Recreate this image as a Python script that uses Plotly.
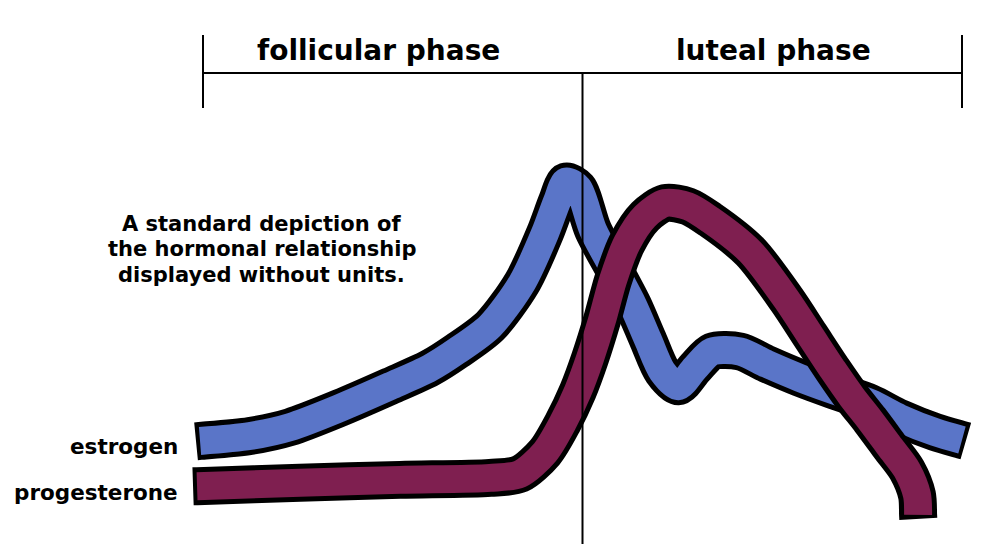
import math
import plotly.graph_objects as go

# Cycle day (x) and relative hormone level (y, no units)
estrogen_day = [-0.11, 1.73, 3.21, 5.05, 6.90, 8.37, 9.37, 10.59, 11.77, 12.62, 13.06, 13.39, 13.84,
                14.39, 15.24, 15.86, 16.42, 16.94, 17.53, 18.15, 18.78, 19.81, 20.81, 22.02, 23.24,
                24.61, 25.71, 27.00, 28.00]
estrogen_level = [17.9, 19.4, 22.1, 27.9, 34.5, 40.0, 45.2, 52.7, 65.8, 80.9, 90.5, 96.5, 94.5,
                  81.8, 68.8, 59.1, 48.5, 39.0, 34.5, 40.0, 45.0, 45.0, 41.2, 37.0, 33.3,
                  29.4, 24.8, 20.6, 18.2]

progesterone_day = [-0.22, 3.58, 7.27, 10.59, 11.69, 12.62, 13.28, 13.83, 14.28, 14.72, 15.13, 15.64,
                    16.31, 17.05, 17.89, 18.70, 20.18, 21.54, 22.39, 23.24, 23.94, 24.61, 25.34,
                    25.97, 26.34, 26.38]
progesterone_level = [4.2, 5.2, 6.1, 6.7, 7.9, 14.5, 23.5, 33.0, 43.0, 54.5, 66.7, 77.8,
                      86.0, 90.0, 89.0, 85.0, 75.3, 60.6, 50.0, 39.4, 31.2, 24.2, 16.1,
                      9.1, 1.5, -4.5]

phase_start, ovulation_day, phase_end = 0, 14, 28
phase_labels = ["follicular phase", "luteal phase"]
series_labels = ["estrogen", "progesterone"]
note_lines = ["A standard depiction of", "the hormonal relationship", "displayed without units."]

BLUE = "#5a75c8"
MAROON = "#7f1f50"
FONT = "DejaVu Sans"

W, H = 984, 536
X_RANGE = [-7.194, 29.107]
Y_RANGE = [-13.33, 149.09]
PX_PER_X = W / (X_RANGE[1] - X_RANGE[0])
PX_PER_Y = H / (Y_RANGE[1] - Y_RANGE[0])

fig = go.Figure()


def extend(xs, ys, i_end, i_prev, px):
    dx = (xs[i_end] - xs[i_prev]) * PX_PER_X
    dy = (ys[i_end] - ys[i_prev]) * PX_PER_Y
    n = math.hypot(dx, dy) or 1.0
    return xs[i_end] + dx / n * px / PX_PER_X, ys[i_end] + dy / n * px / PX_PER_Y


def add_band(xs, ys, color):
    sx, sy = extend(xs, ys, 0, 1, 4)
    ex, ey = extend(xs, ys, -1, -2, 4)
    ox = [sx] + list(xs) + [ex]
    oy = [sy] + list(ys) + [ey]
    fig.add_trace(go.Scatter(x=ox, y=oy, mode="lines", hoverinfo="skip",
                             line=dict(color="black", width=38, shape="spline", smoothing=0.8)))
    fig.add_trace(go.Scatter(x=xs, y=ys, mode="lines", hoverinfo="skip",
                             line=dict(color=color, width=28, shape="spline", smoothing=0.8)))


add_band(estrogen_day, estrogen_level, BLUE)
add_band(progesterone_day, progesterone_level, MAROON)

# phase bracket
line_style = dict(color="black", width=2)
y_bar, y_top, y_bot = 0.8787, 0.9496, 0.8134
fig.add_shape(type="line", xref="x", yref="paper", x0=phase_start, x1=phase_end, y0=y_bar, y1=y_bar,
              line=line_style, layer="above")
fig.add_shape(type="line", xref="x", yref="paper", x0=phase_start, x1=phase_start, y0=y_bot, y1=y_top,
              line=line_style, layer="above")
fig.add_shape(type="line", xref="x", yref="paper", x0=phase_end, x1=phase_end, y0=y_bot, y1=y_top,
              line=line_style, layer="above")
fig.add_shape(type="line", xref="x", yref="paper", x0=ovulation_day, x1=ovulation_day, y0=0, y1=y_bar,
              line=line_style, layer="above")


def text(x, y, s, size, xanchor="center"):
    fig.add_annotation(x=x, xref="paper", y=y, yref="paper", text=s, showarrow=False,
                       xanchor=xanchor, yanchor="middle",
                       font=dict(family=FONT, size=size, color="black", weight="bold"))


text(0.3765, 0.9216, phase_labels[0], 28)
text(0.778, 0.9216, phase_labels[1], 28)

for i, line in enumerate(note_lines):
    text(0.258, 0.5970 - i * 0.0475, line, 21)

text(0.1748, 0.181, series_labels[0], 21.5, xanchor="right")
text(0.1748, 0.097, series_labels[1], 21.5, xanchor="right")

fig.update_layout(
    width=W, height=H,
    margin=dict(l=0, r=0, t=0, b=0),
    paper_bgcolor="white", plot_bgcolor="white",
    showlegend=False,
    xaxis=dict(range=X_RANGE, visible=False, fixedrange=True),
    yaxis=dict(range=Y_RANGE, visible=False, fixedrange=True),
)

fig.write_html("out.html")
